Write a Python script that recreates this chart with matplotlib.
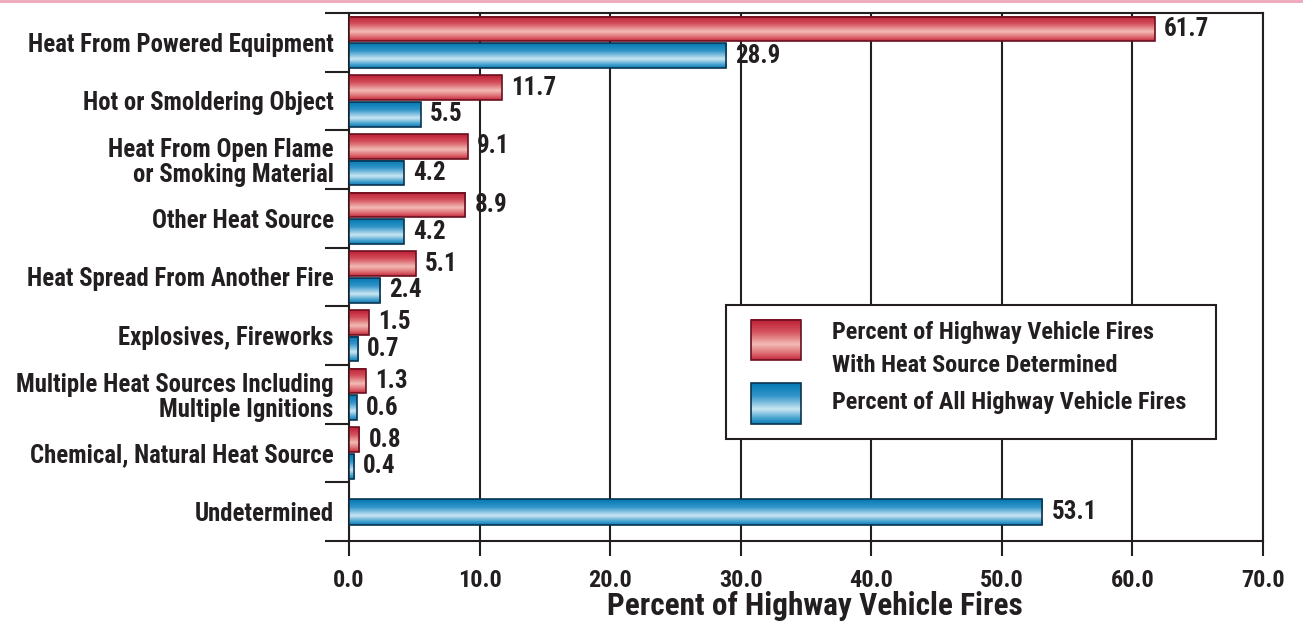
import numpy as np
import matplotlib
matplotlib.use('Agg')
import matplotlib.pyplot as plt
from matplotlib.colors import LinearSegmentedColormap
from matplotlib.patches import Rectangle
from matplotlib.lines import Line2D

plt.rcParams['font.family'] = ['Roboto Condensed', 'Fira Sans Condensed', 'Barlow Semi Condensed',
                               'Liberation Sans Narrow', 'DejaVu Sans']
plt.rcParams['font.weight'] = 'bold'

categories = ['Heat From Powered Equipment', 'Hot or Smoldering Object',
              'Heat From Open Flame\nor Smoking Material', 'Other Heat Source',
              'Heat Spread From Another Fire', 'Explosives, Fireworks',
              'Multiple Heat Sources Including\nMultiple Ignitions',
              'Chemical, Natural Heat Source', 'Undetermined']
pct_determined = [61.7, 11.7, 9.1, 8.9, 5.1, 1.5, 1.3, 0.8]
pct_all = [28.9, 5.5, 4.2, 4.2, 2.4, 0.7, 0.6, 0.4, 53.1]
legend_labels = ['Percent of Highway Vehicle Fires\nWith Heat Source Determined',
                 'Percent of All Highway Vehicle Fires']
xticks = [0, 10, 20, 30, 40, 50, 60, 70]

ink = '#231f20'
# gradient runs top -> bottom of each bar
red_cmap = LinearSegmentedColormap.from_list(
    'r', [(0, '#bd1f35'), (0.3, '#d4505c'), (0.62, '#f3bab4'), (0.85, '#dc6a70'), (1, '#c42a3c')])
blue_cmap = LinearSegmentedColormap.from_list(
    'b', [(0, '#0479b3'), (0.3, '#2f94c8'), (0.64, '#cae6f2'), (0.86, '#4aa4d0'), (1, '#0b7db6')])
grad = np.linspace(0, 1, 64).reshape(-1, 1)

fig = plt.figure(figsize=(13.03, 6.24), dpi=100)
ax = fig.add_axes([0.2678, 0.133, 0.7015, 0.8462])


def gbar(y, v, h, cmap, edge):
    ax.imshow(grad, extent=[0, v, y + h / 2, y - h / 2], aspect='auto', cmap=cmap,
              interpolation='bilinear', zorder=3)
    ax.add_patch(Rectangle((0, y - h / 2), v, h, facecolor='none', edgecolor=edge, lw=1.2, zorder=4))


h = 0.42
for i, v in enumerate(pct_determined):
    y = i + 0.5 - 0.225
    gbar(y, v, h, red_cmap, '#6a1020')
    ax.text(v + 0.7, y, f'{v:.1f}', va='center', ha='left', fontsize=18, fontweight='bold', color=ink)
for i, v in enumerate(pct_all):
    if i < len(pct_determined):
        y = i + 0.5 + 0.225
        hh = h
    else:
        y = i + 0.5
        hh = 0.44
    gbar(y, v, hh, blue_cmap, '#0b3350')
    ax.text(v + 0.7, y, f'{v:.1f}', va='center', ha='left', fontsize=18, fontweight='bold', color=ink)

ax.set_xlim(0, 70)
ax.set_ylim(9, 0)
ax.set_xticks(xticks)
ax.set_xticklabels([f'{t:.1f}' for t in xticks], fontsize=17.5, fontweight='bold')
ax.tick_params(axis='x', length=11, width=1.5, pad=9, colors=ink)
ax.set_yticks(np.arange(0, 10))
ax.set_yticklabels([])
ax.set_yticks(np.arange(9) + 0.5, minor=True)
ax.set_yticklabels(categories, minor=True, fontsize=17.8, fontweight='bold', ha='right',
                   linespacing=1.05, color=ink)
ax.tick_params(axis='y', which='major', length=17, width=1.5, color=ink)
ax.tick_params(axis='y', which='minor', length=0, pad=11)
ax.grid(axis='x', color=ink, lw=1.5, zorder=1)
ax.set_axisbelow(True)
for s in ax.spines.values():
    s.set_linewidth(1.5)
    s.set_color(ink)
ax.set_xlabel('Percent of Highway Vehicle Fires', fontsize=22.5, fontweight='bold', labelpad=0, color=ink)
ax.xaxis.set_label_coords(0.51, -0.123)
ax.xaxis.label.set_va('center')

# legend box
ax.add_patch(Rectangle((0.4125, 0.193), 0.5361, 0.254, transform=ax.transAxes, facecolor='white',
                       edgecolor=ink, lw=1.5, zorder=6))
ax.imshow(grad, extent=[0.4398, 0.4945, 0.3428, 0.4186], transform=ax.transAxes, aspect='auto',
          cmap=red_cmap, interpolation='bilinear', zorder=7)
ax.add_patch(Rectangle((0.4398, 0.3428), 0.0547, 0.0758, transform=ax.transAxes, facecolor='none',
                       edgecolor='#6a1020', lw=1.2, zorder=8))
ax.imshow(grad, extent=[0.4398, 0.4945, 0.2216, 0.2992], transform=ax.transAxes, aspect='auto',
          cmap=blue_cmap, interpolation='bilinear', zorder=7)
ax.add_patch(Rectangle((0.4398, 0.2216), 0.0547, 0.0776, transform=ax.transAxes, facecolor='none',
                       edgecolor='#0b3350', lw=1.2, zorder=8))
first_lines = legend_labels[0].split('\n')
for line, ly in zip(first_lines + [legend_labels[1]], [0.394, 0.3333, 0.2614]):
    ax.text(0.5284, ly, line, transform=ax.transAxes, fontsize=17.5, fontweight='bold',
            va='center', ha='left', zorder=9, color=ink)
ax.set_xlim(0, 70)
ax.set_ylim(9, 0)

fig.add_artist(Line2D([0, 1], [0.998, 0.998], transform=fig.transFigure, color='#eea7b8', lw=2))

fig.savefig('out.png', dpi=100)
